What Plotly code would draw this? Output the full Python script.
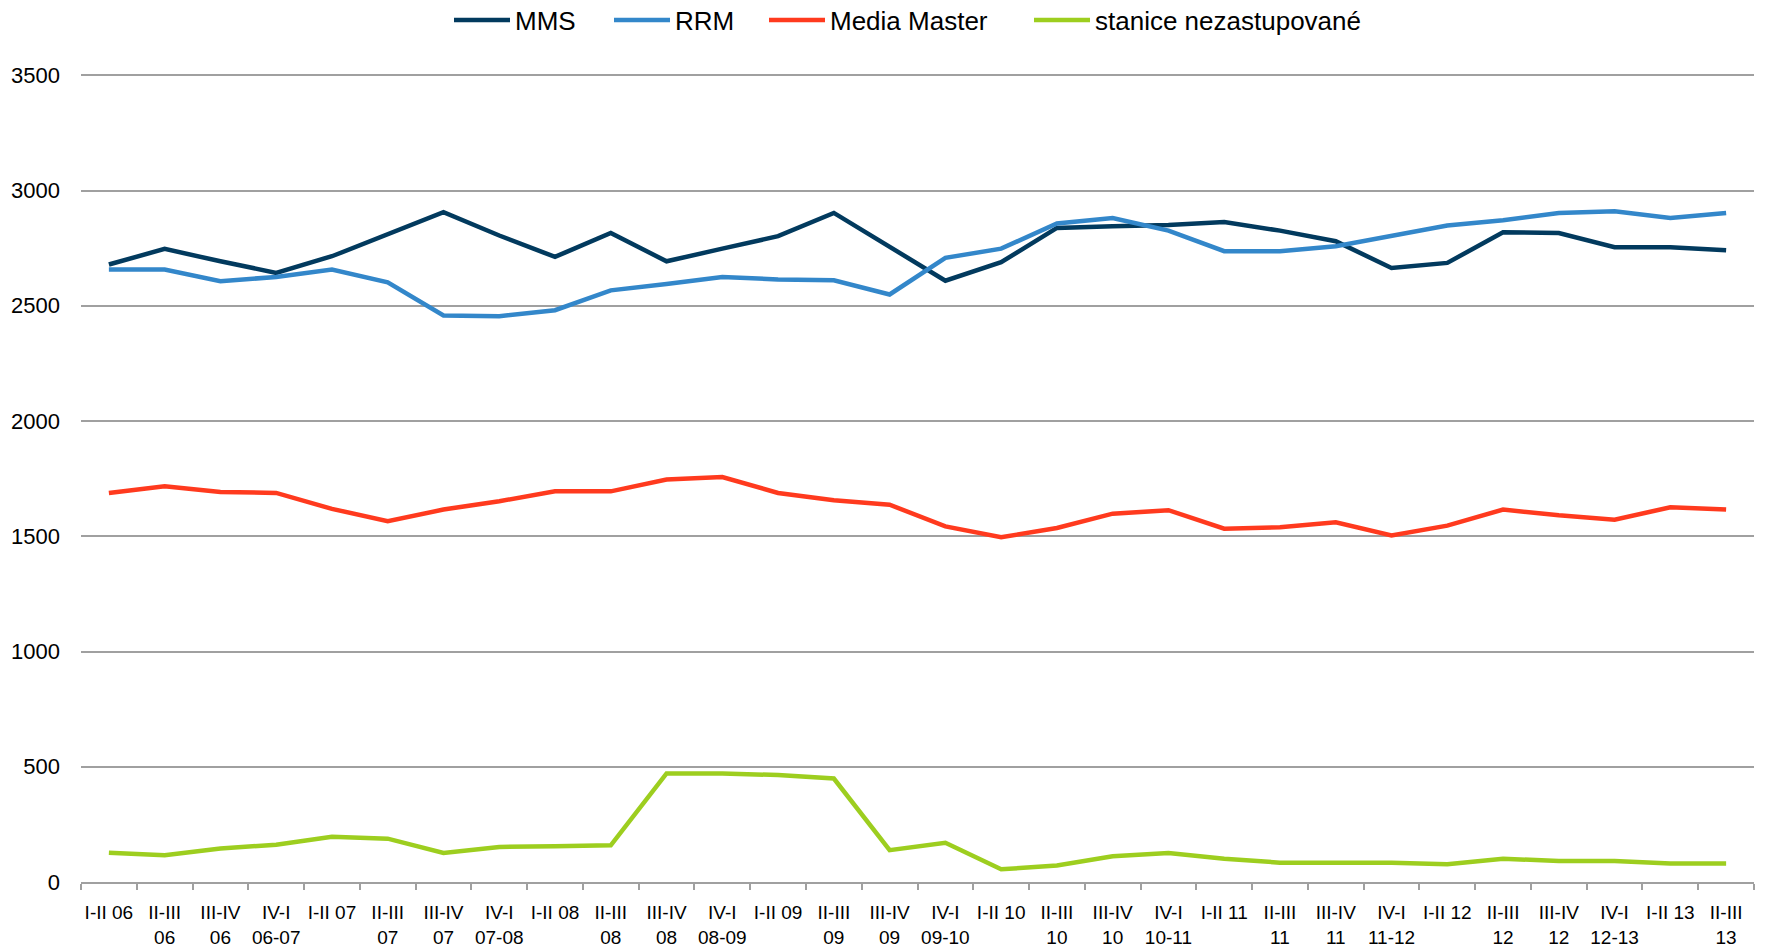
import plotly.graph_objects as go

categories = [
    "I-II 06", "II-III<br>06", "III-IV<br>06", "IV-I<br>06-07",
    "I-II 07", "II-III<br>07", "III-IV<br>07", "IV-I<br>07-08",
    "I-II 08", "II-III<br>08", "III-IV<br>08", "IV-I<br>08-09",
    "I-II 09", "II-III<br>09", "III-IV<br>09", "IV-I<br>09-10",
    "I-II 10", "II-III<br>10", "III-IV<br>10", "IV-I<br>10-11",
    "I-II 11", "II-III<br>11", "III-IV<br>11", "IV-I<br>11-12",
    "I-II 12", "II-III<br>12", "III-IV<br>12", "IV-I<br>12-13",
    "I-II 13", "II-III<br>13",
]

mms = [2679, 2747, 2693, 2643, 2715, 2808, 2906, 2805, 2712, 2816,
       2693, 2748, 2802, 2903, 2757, 2609, 2689, 2838, 2845, 2850,
       2863, 2826, 2780, 2664, 2686, 2819, 2816, 2754, 2754, 2741]
rrm = [2657, 2657, 2607, 2625, 2657, 2602, 2458, 2455, 2481, 2567,
       2595, 2625, 2614, 2611, 2549, 2708, 2748, 2857, 2881, 2826,
       2737, 2737, 2758, 2802, 2848, 2871, 2903, 2910, 2881, 2903]
media_master = [1688, 1717, 1692, 1688, 1619, 1565, 1616, 1652, 1695, 1695,
                1746, 1757, 1688, 1656, 1637, 1543, 1496, 1536, 1598, 1613,
                1533, 1539, 1561, 1504, 1546, 1616, 1591, 1572, 1626, 1616]
stanice = [127, 116, 145, 162, 196, 188, 126, 152, 155, 159,
           471, 471, 464, 449, 138, 170, 55, 72, 112, 126,
           101, 84, 84, 83, 77, 101, 91, 91, 80, 80]

series_names = ["MMS", "RRM", "Media Master", "stanice nezastupované"]
series_values = [mms, rrm, media_master, stanice]
colors = ["#023A5E", "#3387CA", "#FF3A1E", "#9DCE1F"]
legend_ids = ["legend", "legend2", "legend3", "legend4"]
legend_x_px = [449, 609, 764, 1029]   # left edge of each legend entry (px)

W, H = 1768, 947
ML, MR, MT, MB = 81, 14, 73, 65
plot_w = W - ML - MR
plot_h = H - MT - MB

fig = go.Figure()
for name, vals, col, lid in zip(series_names, series_values, colors, legend_ids):
    fig.add_trace(go.Scatter(
        x=categories, y=vals, name=name, mode="lines",
        line=dict(color=col, width=4.5), legend=lid,
    ))

legend_font = dict(family="Liberation Sans, Arial, sans-serif", size=26, color="black")
legend_y = 1 + (MT - 20) / plot_h
layout_legends = {}
for lid, px in zip(legend_ids, legend_x_px):
    layout_legends[lid] = dict(
        orientation="h", x=(px - ML) / plot_w, xanchor="left",
        y=legend_y, yanchor="middle",
        font=legend_font, itemwidth=56,
        bgcolor="rgba(0,0,0,0)", borderwidth=0,
    )

fig.update_layout(
    width=W, height=H,
    plot_bgcolor="white", paper_bgcolor="white",
    margin=dict(l=ML, r=MR, t=MT, b=MB, autoexpand=False),
    showlegend=True,
    **layout_legends,
)
fig.update_xaxes(
    type="category", range=[-0.5, len(categories) - 0.5],
    showgrid=False,
    showline=True, linecolor="#A0A0A0", linewidth=2,
    ticks="outside", tickson="boundaries", ticklen=6, tickcolor="#A0A0A0", tickwidth=1.5,
    tickangle=0, ticklabelstandoff=12,
    tickfont=dict(family="Liberation Sans, Arial, sans-serif", size=19, color="black"),
)
fig.update_yaxes(
    range=[0, 3510], tickvals=[0, 500, 1000, 1500, 2000, 2500, 3000, 3500],
    showgrid=True, gridcolor="#A0A0A0", gridwidth=2,
    zeroline=False, showline=False,
    ticks="", ticklabelstandoff=20,
    tickfont=dict(family="Liberation Sans, Arial, sans-serif", size=22, color="black"),
)

fig.write_html(
    "out.html",
    config={"displayModeBar": False},
    post_script="document.body.style.margin='0';document.body.style.overflow='hidden';",
)
